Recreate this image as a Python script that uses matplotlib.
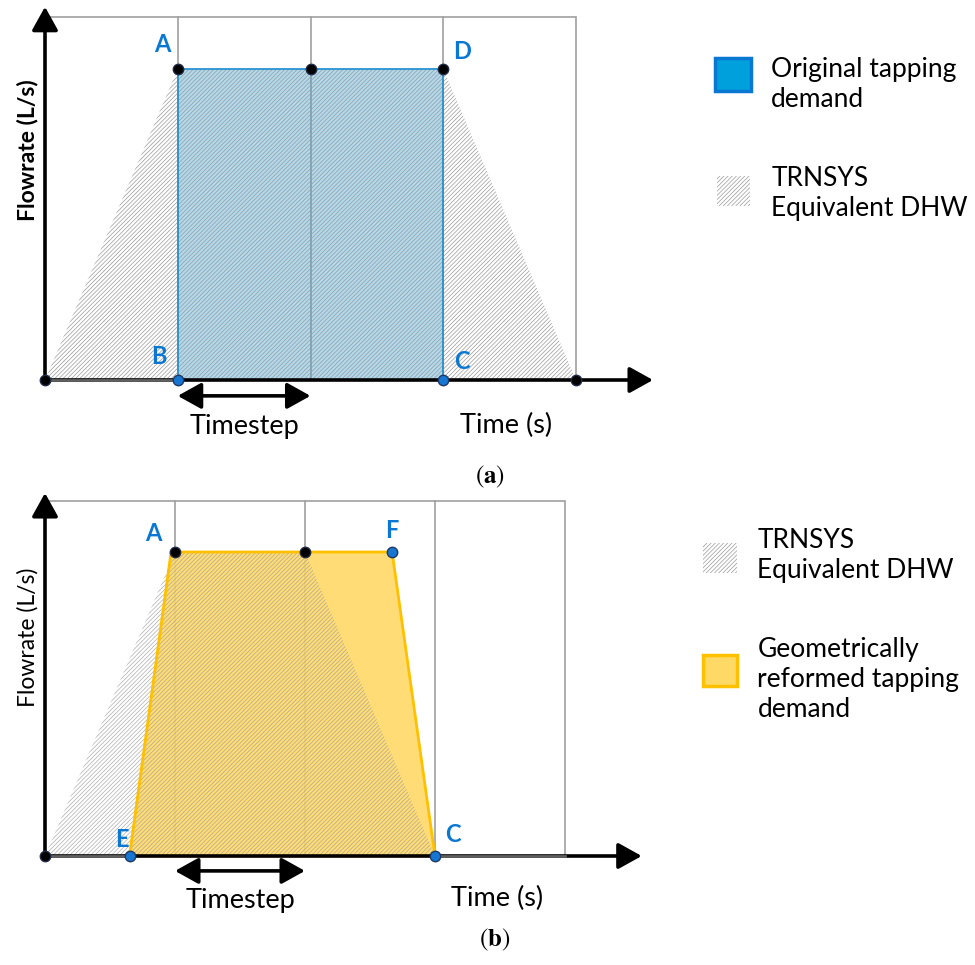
import matplotlib
matplotlib.use("Agg")
import matplotlib.pyplot as plt
from matplotlib.patches import Polygon, Rectangle

plt.rcParams['font.family'] = ['Lato', 'DejaVu Sans']
plt.rcParams['hatch.linewidth'] = 0.5
plt.rcParams['mathtext.fontset'] = 'stix'

W, H = 975, 965

# time grid (in timesteps) and flow levels
grid_x = [0, 1, 2, 3, 4]
grid_top = 1.167

# panel (a)
trn_a_x = [0, 1, 3, 4]
trn_a_y = [0, 1, 1, 0]
orig_x = [1, 1, 3, 3]
orig_y = [0, 1, 1, 0]
dots_a_black = [(0, 0), (1, 1), (2, 1), (3, 1), (4, 0)]
dots_a_blue = [(1, 0), (3, 0)]
labels_a = {'A': (0.88, 1.08), 'D': (3.14, 1.055), 'B': (0.86, 0.077), 'C': (3.14, 0.06)}

# panel (b)
trn_b_x = [0, 1, 2, 3]
trn_b_y = [0, 1, 1, 0]
geo_x = [0.65, 0.97, 2.67, 3.0]
geo_y = [0, 1, 1, 0]
dots_b_black = [(0, 0), (1, 1), (2, 1)]
dots_b_blue = [(0.65, 0), (2.67, 1), (3.0, 0)]
labels_b = {'A': (0.83, 1.06), 'F': (2.67, 1.07), 'E': (0.59, 0.055), 'C': (3.14, 0.07)}

BLUE_TXT = '#0a78d2'
HATCH_C = '#9a9a9a'
HATCH = '////////'
ARROW = '-|>,head_length=0.9,head_width=0.5'
ARROW2 = '<|-|>,head_length=0.9,head_width=0.5'

fig = plt.figure(figsize=(W / 100, H / 100), dpi=100)


def make_panel(y0, y1, x0, xs, base, ys):
    ax = fig.add_axes([0, 1 - y1 / H, 1, (y1 - y0) / H])
    ax.set_xlim(-x0 / xs, (W - x0) / xs)
    ax.set_ylim((base - y1) / ys, (base - y0) / ys)
    ax.axis('off')
    return ax


def draw_frame(ax, x_end, y_end):
    ax.add_patch(Rectangle((0, 0), 4, grid_top, fill=False, ec='#a0a0a0', lw=1.2, zorder=1))
    for gx in grid_x[1:-1]:
        ax.plot([gx, gx], [0, grid_top], color='#a0a0a0', lw=1.2, zorder=1)
    ax.annotate('', xy=(x_end, 0), xytext=(0, 0),
                arrowprops=dict(arrowstyle=ARROW, mutation_scale=16, lw=2.6,
                                color='black', shrinkA=0, shrinkB=0), zorder=6)
    ax.annotate('', xy=(0, y_end), xytext=(0, 0),
                arrowprops=dict(arrowstyle=ARROW, mutation_scale=16, lw=2.6,
                                color='black', shrinkA=0, shrinkB=0), zorder=6)


def draw_dots(ax, black, blue):
    for px, py in black:
        ax.plot(px, py, 'o', ms=7.5, mfc='black', mec='#1f2a44', mew=1, zorder=8, clip_on=False)
    for px, py in blue:
        ax.plot(px, py, 'o', ms=7.5, mfc='#1676d2', mec='#1f3864', mew=1, zorder=8, clip_on=False)


def draw_labels(ax, labels):
    for t, (px, py) in labels.items():
        ax.text(px, py, t, color=BLUE_TXT, fontsize=17, fontweight='bold',
                ha='center', va='center', zorder=9)


def timestep(ax, y, y_txt):
    ax.annotate('', xy=(2, y), xytext=(1, y),
                arrowprops=dict(arrowstyle=ARROW2, mutation_scale=16, lw=2.6,
                                color='black', shrinkA=0, shrinkB=0))
    ax.text(1.5, y_txt, 'Timestep', fontsize=19.5, ha='center', va='center')


# ---------- panel (a) ----------
ax1 = make_panel(0, 490, 45, 132.75, 380, 311)
draw_frame(ax1, 4.58, 1.2)
ax1.add_patch(Polygon(list(zip(orig_x, orig_y)), closed=True, fc='#3ea0d4', alpha=0.4,
                      ec='none', zorder=2))
ax1.add_patch(Polygon(list(zip(orig_x, orig_y)), closed=True, fill=False,
                      ec='#2a93d0', lw=1.3, zorder=4))
ax1.add_patch(Polygon(list(zip(trn_a_x, trn_a_y)), closed=True, fill=False,
                      ec=HATCH_C, lw=0, hatch=HATCH, zorder=3))
ax1.plot([0, 1], [0, 0], color='#606060', lw=2, zorder=7)
draw_dots(ax1, dots_a_black, dots_a_blue)
draw_labels(ax1, labels_a)
timestep(ax1, -0.051, -0.148)
ax1.text(3.47, -0.145, 'Time (s)', fontsize=19.5, ha='center', va='center')
ax1.text(-0.13, 0.74, 'Flowrate (L/s)', fontsize=16.5, fontweight='bold',
         rotation=90, ha='center', va='center')
ax1.text(3.35, -0.31, r'$(\mathbf{a})$', fontsize=18, ha='center', va='center')

# legend (a)
ax1.add_patch(Rectangle((5.05, 0.93), 0.27, 0.105, fc='#00a0dc', ec='#0a78d2', lw=2.5, zorder=3))
ax1.text(5.47, 0.95, 'Original tapping\ndemand', fontsize=19, ha='left', va='center',
         linespacing=1.25)
ax1.add_patch(Rectangle((5.06, 0.56), 0.25, 0.095, fill=False, ec=HATCH_C, lw=0,
                        hatch=HATCH, zorder=3))
ax1.text(5.47, 0.60, 'TRNSYS\nEquivalent DHW', fontsize=19, ha='left', va='center',
         linespacing=1.25)

# ---------- panel (b) ----------
ax2 = make_panel(490, 965, 45, 130, 856, 304)
draw_frame(ax2, 4.59, 1.194)
ax2.add_patch(Polygon(list(zip(geo_x, geo_y)), closed=True, fc='#ffd966', alpha=0.9,
                      ec='none', zorder=2))
ax2.add_patch(Polygon(list(zip(geo_x, geo_y)), closed=True, fill=False,
                      ec='#ffc000', lw=2, zorder=4))
ax2.add_patch(Polygon(list(zip(trn_b_x, trn_b_y)), closed=True, fill=False,
                      ec=HATCH_C, lw=0, hatch=HATCH, alpha=0.8, zorder=3))
ax2.plot([0, 0.65], [0, 0], color='#606060', lw=2, zorder=7)
ax2.plot([3, 4], [0, 0], color='#606060', lw=2, zorder=7)
draw_dots(ax2, dots_b_black, dots_b_blue)
draw_labels(ax2, labels_b)
timestep(ax2, -0.049, -0.145)
ax2.text(3.48, -0.14, 'Time (s)', fontsize=19.5, ha='center', va='center')
ax2.text(-0.13, 0.72, 'Flowrate (L/s)', fontsize=16.5,
         rotation=90, ha='center', va='center')
ax2.text(3.46, -0.275, r'$(\mathbf{b})$', fontsize=18, ha='center', va='center')

# legend (b)
ax2.add_patch(Rectangle((5.06, 0.93), 0.26, 0.1, fill=False, ec=HATCH_C, lw=0,
                        hatch=HATCH, zorder=3))
ax2.text(5.48, 0.99, 'TRNSYS\nEquivalent DHW', fontsize=19, ha='left', va='center',
         linespacing=1.25)
ax2.add_patch(Rectangle((5.06, 0.56), 0.26, 0.1, fc='#ffd966', ec='#ffc000', lw=2.5, zorder=3))
ax2.text(5.48, 0.58, 'Geometrically\nreformed tapping\ndemand', fontsize=19, ha='left',
         va='center', linespacing=1.25)

fig.savefig('out.png', dpi=100)
